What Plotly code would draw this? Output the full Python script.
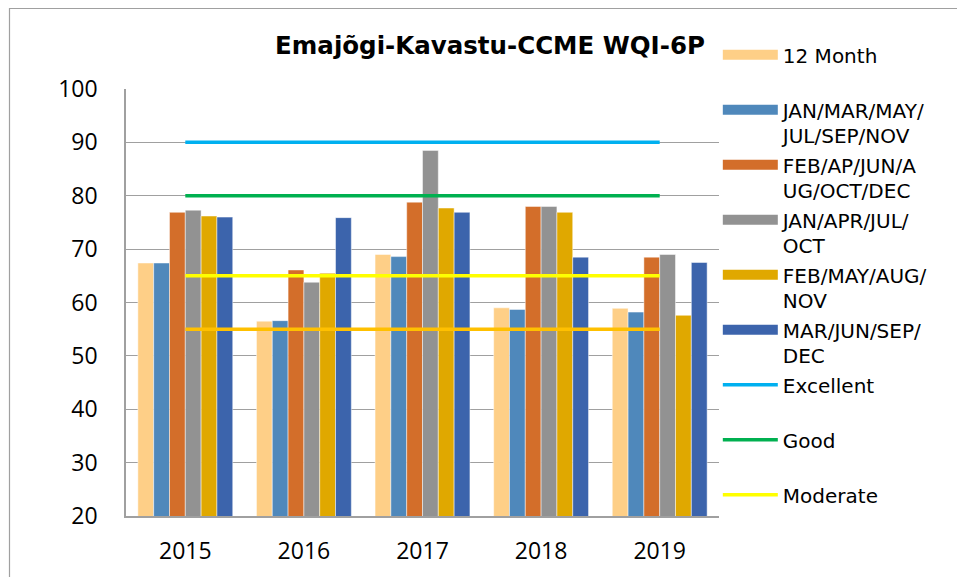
import plotly.graph_objects as go

years = ["2015", "2016", "2017", "2018", "2019"]

series_names = [
    "12 Month",
    "JAN/MAR/MAY/<br>JUL/SEP/NOV",
    "FEB/AP/JUN/A<br>UG/OCT/DEC",
    "JAN/APR/JUL/<br>OCT",
    "FEB/MAY/AUG/<br>NOV",
    "MAR/JUN/SEP/<br>DEC",
]
month_12 = [67.4, 56.5, 69.0, 59.0, 58.9]
jan_mar_may = [67.4, 56.6, 68.6, 58.7, 58.2]
feb_ap_jun = [76.9, 66.1, 78.8, 78.0, 68.5]
jan_apr_jul = [77.3, 63.8, 88.5, 78.0, 69.0]
feb_may_aug = [76.2, 65.5, 77.7, 76.9, 57.6]
mar_jun_sep = [76.0, 75.9, 76.9, 68.5, 67.5]

threshold_names = ["Excellent", "Good", "Moderate", "Marginal"]
threshold_values = [90, 80, 65, 55]

bar_colors = ["#FECF87", "#4F88BB", "#D36E2A", "#929292", "#E0A800", "#3C64AC"]
line_colors = ["#00B0F0", "#00B050", "#FFFF00", "#FFC000"]

fig = go.Figure()

all_series = [month_12, jan_mar_may, feb_ap_jun, jan_apr_jul, feb_may_aug, mar_jun_sep]
for name, vals, color in zip(series_names, all_series, bar_colors):
    fig.add_trace(go.Bar(
        x=years, y=vals, name=name, legendgroup=name, showlegend=False,
        marker=dict(color=color, line=dict(color="rgba(255,255,255,0.6)", width=0.8)),
    ))
    # wide swatch for the legend, like the spreadsheet one
    # single-line labels get an empty second line so every slot is equal
    legend_name = name if "<br>" in name else name + "<br> "
    fig.add_trace(go.Scatter(
        x=[None], y=[None], name=legend_name, legendgroup=name, mode="lines",
        line=dict(color=color, width=13),
    ))

for i, (name, val, color) in enumerate(zip(threshold_names, threshold_values, line_colors)):
    fig.add_trace(go.Scatter(
        x=years, y=[val] * len(years), name=name + "<br> ",
        mode="lines", line=dict(color=color, width=3.5),
        showlegend=(i < 3),
    ))

# page body has an 8px margin, so the figure is a bit smaller than the window
W, H = 957, 569
L, T, PW, PH = 118, 81, 593, 427

fig.update_layout(
    width=W, height=H,
    margin=dict(l=L, r=W - L - PW, t=T, b=H - T - PH, autoexpand=False),
    barmode="group", bargap=0.2, bargroupgap=0,
    plot_bgcolor="white", paper_bgcolor="white",
    font=dict(family="DejaVu Sans", color="#000000"),
    title=dict(
        text="<b>Emajõgi-Kavastu-CCME WQI-6P</b>",
        x=482 / W, xanchor="center", y=1 - 37 / H, yanchor="middle",
        font=dict(family="DejaVu Sans", size=24.5, color="#000000"),
    ),
    legend=dict(
        x=0.998, xanchor="left", y=1.126, yanchor="top",
        font=dict(family="DejaVu Sans", size=20, color="#000000"),
        valign="top", itemwidth=55, tracegroupgap=0, maxheight=H,
        bgcolor="rgba(0,0,0,0)",
    ),
    shapes=[dict(
        type="rect", xref="paper", yref="paper",
        x0=(1.5 - L) / PW, x1=1.6, y0=-0.5, y1=1 + (T - 0.5) / PH,
        line=dict(color="#A0A0A0", width=1.2), fillcolor="rgba(0,0,0,0)",
        layer="below",
    )],
)

fig.update_xaxes(
    showgrid=False, showline=True, linecolor="#A0A0A0", linewidth=1.5,
    ticks="", ticklabelstandoff=14,
    tickfont=dict(family="Open Sans", size=23, color="#000000"),
)
fig.update_yaxes(
    range=[20, 100], dtick=10, showgrid=True, gridcolor="#A0A0A0", gridwidth=1.3,
    showline=True, linecolor="#A0A0A0", linewidth=1.5, ticks="",
    ticklabelstandoff=22, zeroline=False,
    tickfont=dict(family="Open Sans", size=23, color="#000000"),
)

fig.write_html("out.html")
